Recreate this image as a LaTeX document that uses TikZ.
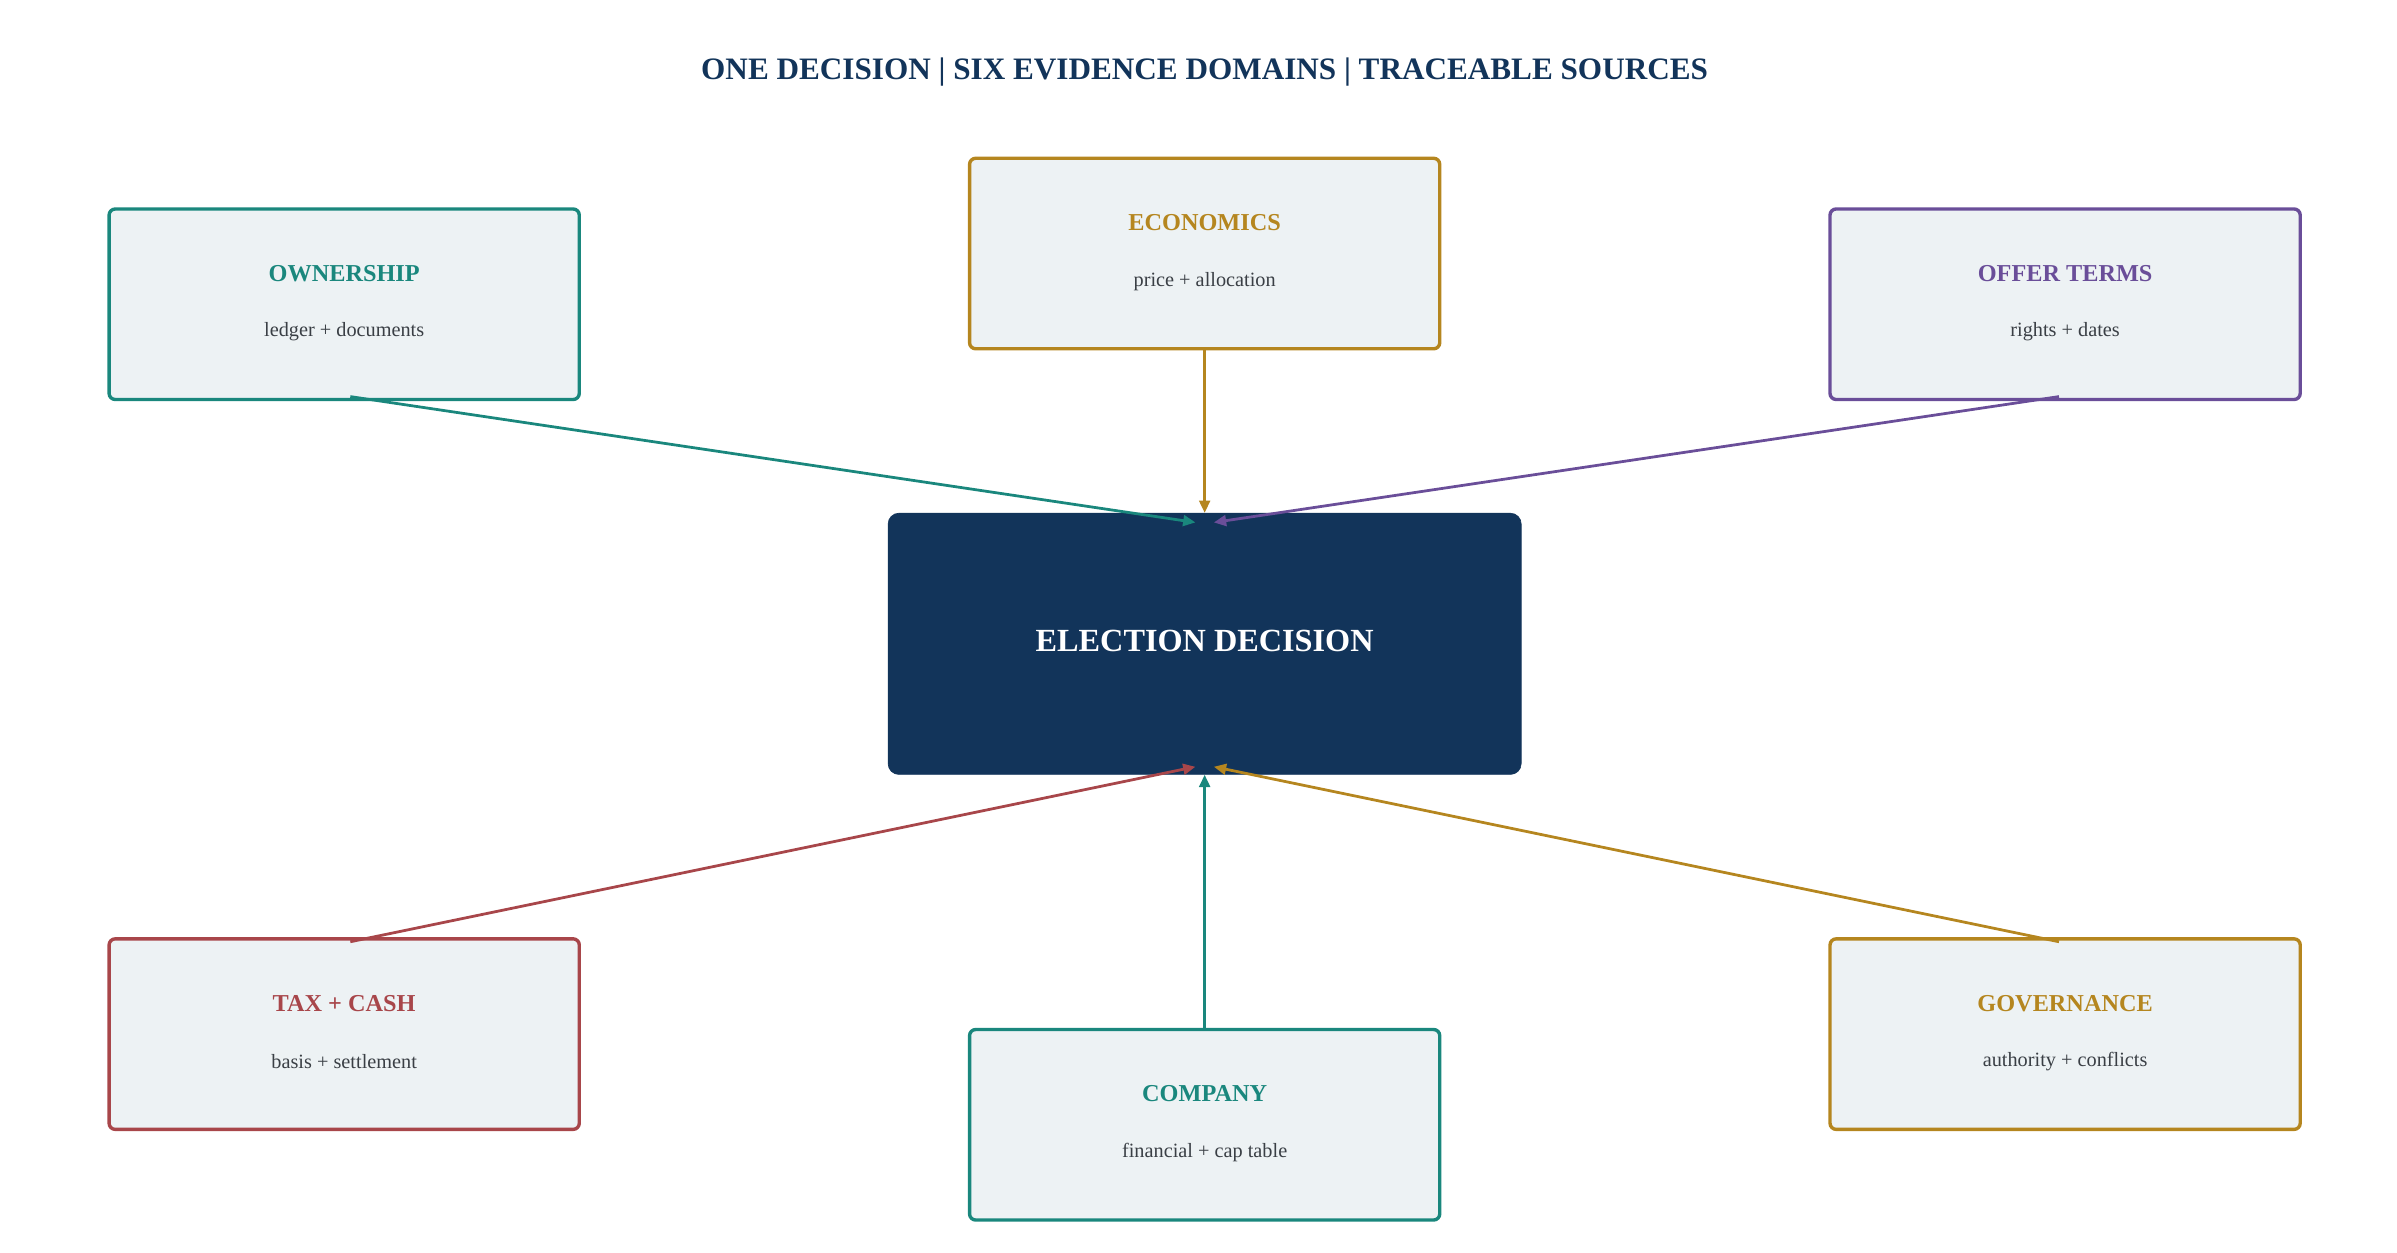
\documentclass[tikz,border=0pt]{standalone}
\usepackage{fontspec}
\setmainfont{Liberation Serif}
\usetikzlibrary{arrows.meta}
\definecolor{navy}{HTML}{12345A}
\definecolor{teal}{HTML}{1A877D}
\definecolor{gold}{HTML}{B5861F}
\definecolor{purp}{HTML}{6A4E99}
\definecolor{redd}{HTML}{A8464A}
\definecolor{boxfill}{HTML}{EDF2F4}
\definecolor{subtxt}{HTML}{3A3F45}
\begin{document}
\begin{tikzpicture}[x=1pt,y=-1pt,
  dom/.style={draw=#1,line width=2.2pt,fill=boxfill,rounded corners=4pt,minimum width=306pt,minimum height=124pt,inner sep=0pt},
  ttl/.style={text=#1,font=\fontsize{15.8}{18}\selectfont\bfseries},
  sub/.style={text=subtxt,font=\fontsize{13.2}{15}\selectfont},
  arr/.style={draw=#1,line width=1.8pt,-{Triangle[length=8pt,width=7pt]}}]
\useasboundingbox (0,0) rectangle (1560,815);
\node[text=navy,font=\fontsize{20.3}{24}\selectfont\bfseries] (title) at (784,47) {ONE DECISION | SIX EVIDENCE DOMAINS | TRACEABLE SOURCES};
\node[fill=navy,draw=navy,rounded corners=7pt,minimum width=412pt,minimum height=170pt] (c) at (784,419) {};
\node[text=white,font=\fontsize{21}{24}\selectfont\bfseries] (ct) at (784,417) {ELECTION DECISION};
% boxes
\node[dom=teal] (own) at (224,198) {};
\node[ttl=teal] (ownt) at (224,178) {OWNERSHIP};
\node[sub] (owns) at (224,216) {ledger + documents};
\node[dom=gold] (eco) at (784,165) {};
\node[ttl=gold] (ecot) at (784,145) {ECONOMICS};
\node[sub] (ecos) at (784,183) {price + allocation};
\node[dom=purp] (off) at (1344,198) {};
\node[ttl=purp] (offt) at (1344,178) {OFFER TERMS};
\node[sub] (offs) at (1344,216) {rights + dates};
\node[dom=redd] (tax) at (224,673) {};
\node[ttl=redd] (taxt) at (224,653) {TAX + CASH};
\node[sub] (taxs) at (224,691) {basis + settlement};
\node[dom=teal] (com) at (784,732) {};
\node[ttl=teal] (comt) at (784,712) {COMPANY};
\node[sub] (coms) at (784,750) {financial + cap table};
\node[dom=gold] (gov) at (1344,673) {};
\node[ttl=gold] (govt) at (1344,653) {GOVERNANCE};
\node[sub] (govs) at (1344,691) {authority + conflicts};
% targets
\coordinate (tl) at (778,340);
\coordinate (tr) at (790,340);
\coordinate (bl) at (778,499);
\coordinate (br) at (790,499);
\draw[arr=teal] ([xshift=4pt,yshift=3pt]own.south) -- (tl);
\draw[arr=gold] (eco.south) -- (c.north);
\draw[arr=purp] ([xshift=-4pt,yshift=3pt]off.south) -- (tr);
\draw[arr=redd] ([xshift=4pt,yshift=-3pt]tax.north) -- (bl);
\draw[arr=teal] (com.north) -- (c.south);
\draw[arr=gold] ([xshift=-4pt,yshift=-3pt]gov.north) -- (br);
\end{tikzpicture}
\end{document}
